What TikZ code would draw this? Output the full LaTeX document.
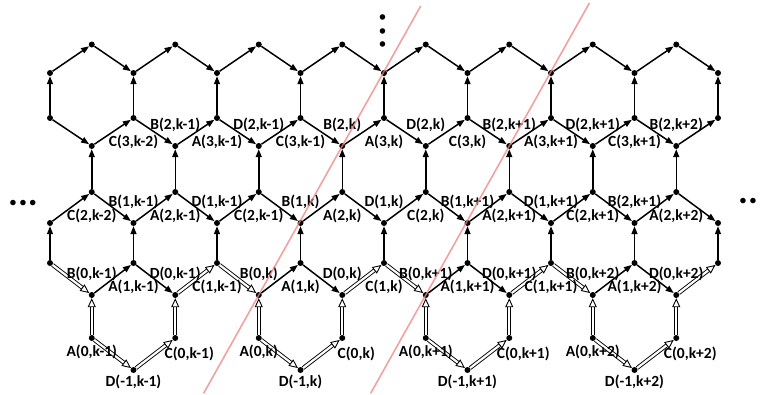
\documentclass[tikz,border=0pt]{standalone}
\usepackage{fontspec}
\setmainfont{Carlito}
\usetikzlibrary{calc, positioning}
\usetikzlibrary{arrows.meta}
\definecolor{cutred}{RGB}{238,130,130}

\begin{document}
\begin{tikzpicture}[x=1pt,y=-1pt,
	vtx/.style={circle,fill=black,inner sep=0pt,minimum size=6pt},
	arc/.style={line width=1.5pt,-{Triangle[length=8pt,width=6pt]}},
	dbl/.style={double,line width=0.9pt,double distance=2.2pt,-{Triangle[open,length=9pt,width=8pt]}},
	lbl/.style={font=\bfseries\fontsize{15.5}{17}\selectfont,inner sep=0pt},
	dots/.style={font=\bfseries\fontsize{37}{37}\selectfont,inner sep=0pt},
	cut/.style={line width=1.6pt,draw=cutred,opacity=0.75}]
	\useasboundingbox (0,0) rectangle (763,394);
	
	% lattice points, one column at a time
	\foreach \j in {0,...,16}{
		\pgfmathsetmacro{\xx}{50+41.75*\j}
		\ifodd\j
			\node[vtx] (z1-\j) at (\xx,44.5) {};
			\node[vtx] (z2-\j) at (\xx,146) {};
			\node[vtx] (z3-\j) at (\xx,192) {};
			\node[vtx] (z4-\j) at (\xx,295) {};
			\node[vtx] (b-\j) at (\xx,338) {};
		\else
			\node[vtx] (z1-\j) at (\xx,73) {};
			\node[vtx] (z2-\j) at (\xx,118) {};
			\node[vtx] (z3-\j) at (\xx,223) {};
			\node[vtx] (z4-\j) at (\xx,263) {};
		\fi
	}
	\foreach \j in {2,6,10,14}
		\node[vtx] (d-\j) at (50+41.75*\j,370) {};
	
	% zigzags, left to right
	\foreach \j [evaluate=\j as \k using int(\j+1)] in {0,...,15}{
		\draw[arc] (z1-\j) -- (z1-\k);
		\draw[arc] (z2-\j) -- (z2-\k);
		\draw[arc] (z3-\j) -- (z3-\k);
	}
	\foreach \j/\k in {1/2,2/3,5/6,6/7,9/10,10/11,13/14,14/15}
		\draw[arc] (z4-\j) -- (z4-\k);
	\foreach \j/\k in {0/1,3/4,4/5,7/8,8/9,11/12,12/13,15/16}
		\draw[dbl] (z4-\j) -- (z4-\k);
	
	% vertical edges, all upwards
	\foreach \j in {0,2,...,16}{
		\draw[arc] (z2-\j) -- (z1-\j);
		\draw[arc] (z4-\j) -- (z3-\j);
	}
	\foreach \j in {1,3,...,15}{
		\draw[arc] (z3-\j) -- (z2-\j);
		\draw[dbl] (b-\j) -- (z4-\j);
	}
	
	% bottom half hexagons
	\foreach \j [evaluate=\j as \l using int(\j-1), evaluate=\j as \r using int(\j+1)] in {2,6,10,14}{
		\draw[dbl] (b-\l) -- (d-\j);
		\draw[dbl] (d-\j) -- (b-\r);
	}
	
	% labels
	\foreach \j/\t in {3/{B(2,k-1)},5/{D(2,k-1)},7/{B(2,k)},9/{D(2,k)},11/{B(2,k+1)},13/{D(2,k+1)},15/{B(2,k+2)}}
		\node[lbl,above=11pt of z2-\j] (l2-\j) {\t};
	\foreach \j/\t in {2/{C(3,k-2)},4/{A(3,k-1)},6/{C(3,k-1)},8/{A(3,k)},10/{C(3,k)},12/{A(3,k+1)},14/{C(3,k+1)}}
		\node[lbl,below=14pt of z2-\j] (l2-\j) {\t};
	\foreach \j/\t in {2/{B(1,k-1)},4/{D(1,k-1)},6/{B(1,k)},8/{D(1,k)},10/{B(1,k+1)},12/{D(1,k+1)},14/{B(2,k+1)}}
		\node[lbl,above=11pt of z3-\j] (l3-\j) {\t};
	\foreach \j/\t in {1/{C(2,k-2)},3/{A(2,k-1)},5/{C(2,k-1)},7/{A(2,k)},9/{C(2,k)},11/{A(2,k+1)},13/{C(2,k+1)},15/{A(2,k+2)}}
		\node[lbl,below=14pt of z3-\j] (l3-\j) {\t};
	\foreach \j/\t in {1/{B(0,k-1)},3/{D(0,k-1)},5/{B(0,k)},7/{D(0,k)},9/{B(0,k+1)},11/{D(0,k+1)},13/{B(0,k+2)},15/{D(0,k+2)}}
		\node[lbl,above=11pt of z4-\j] (l4-\j) {\t};
	\foreach \j/\t in {2/{A(1,k-1)},4/{C(1,k-1)},6/{A(1,k)},8/{C(1,k)},10/{A(1,k+1)},12/{C(1,k+1)},14/{A(1,k+2)}}
		\node[lbl,below=14pt of z4-\j] (l4-\j) {\t};
	\foreach \j/\t in {1/{A(0,k-1)},5/{A(0,k)},9/{A(0,k+1)},13/{A(0,k+2)}}
		\node[lbl,below=4pt of b-\j] (la-\j) {\t};
	\foreach \j/\t in {3/{C(0,k-1)},7/{C(0,k)},11/{C(0,k+1)},15/{C(0,k+2)}}
		\node[lbl,below=6pt of b-\j,xshift=14pt] (lc-\j) {\t};
	\foreach \j/\t in {2/{D(-1,k-1)},6/{D(-1,k)},10/{D(-1,k+1)},14/{D(-1,k+2)}}
		\node[lbl,below=2pt of d-\j] (ld-\j) {\t};
	
	% more of the lattice
	\node[dots] (more-l) at (23,203) {...};
	\node[dots] (more-r) at (748,201) {..};
	\node[dots,rotate=-90] (more-t) at (383,31) {.\kern4pt.\kern4pt.};
	
	% cut lines through the B points
	\coordinate (cut1a) at ($(z4-5)!-0.66!(z2-7)$);
	\coordinate (cut1b) at ($(z4-5)!1.94!(z2-7)$);
	\coordinate (cut2a) at ($(z4-9)!-0.66!(z2-11)$);
	\coordinate (cut2b) at ($(z4-9)!1.96!(z2-11)$);
	\draw[cut] (cut1a) -- (cut1b);
	\draw[cut] (cut2a) -- (cut2b);
\end{tikzpicture}
\end{document}
